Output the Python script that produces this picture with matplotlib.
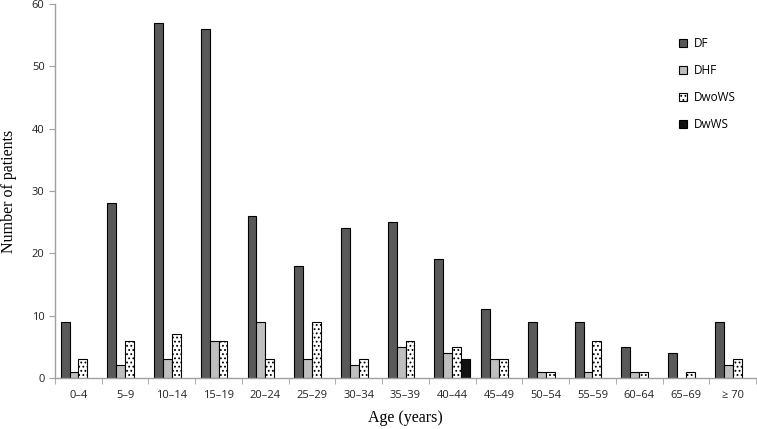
import numpy as np
import matplotlib.pyplot as plt
from matplotlib.patches import Patch

# Age groups and patient counts per dengue category
age_groups = ['0\u20134', '5\u20139', '10\u201314', '15\u201319', '20\u201324', '25\u201329',
              '30\u201334', '35\u201339', '40\u201344', '45\u201349', '50\u201354', '55\u201359',
              '60\u201364', '65\u201369', '\u2265 70']
df_counts = [9, 28, 57, 56, 26, 18, 24, 25, 19, 11, 9, 9, 5, 4, 9]
dhf_counts = [1, 2, 3, 6, 9, 3, 2, 5, 4, 3, 1, 1, 1, 0, 2]
dwows_counts = [3, 6, 7, 6, 3, 9, 3, 6, 5, 3, 1, 6, 1, 1, 3]
dwws_counts = [0, 0, 0, 0, 0, 0, 0, 0, 3, 0, 0, 0, 0, 0, 0]

series = [
    ('DF', df_counts, '#595959', None),
    ('DHF', dhf_counts, '#bfbfbf', None),
    ('DwoWS', dwows_counts, 'white', '....'),
    ('DwWS', dwws_counts, '#111111', None),
]

plt.rcParams['hatch.linewidth'] = 0.8

fig = plt.figure(figsize=(7.57, 4.29), dpi=100)
ax = fig.add_axes([0.0727, 0.119, 0.926, 0.872])

x = np.arange(len(age_groups))
width = 0.19
handles = []
for j, (name, vals, color, hatch) in enumerate(series):
    vals = np.array(vals)
    keep = vals > 0  # zero counts draw no bar
    ax.bar(x[keep] + (j - 1.5) * width, vals[keep], width=width, color=color,
           edgecolor='black', linewidth=0.8, hatch=hatch)
    handles.append(Patch(facecolor=color, edgecolor='black', linewidth=0.8,
                         hatch=hatch, label=name))

ax.set_xlim(-0.5, len(age_groups) - 0.5)
ax.set_ylim(0, 60)
ax.set_yticks(np.arange(0, 61, 10))
ax.set_xticks(x)
ax.set_xticklabels(age_groups)
ax.set_xticks(np.arange(-0.5, len(age_groups)), minor=True)
ax.tick_params(axis='x', which='major', length=0, pad=9)
ax.tick_params(axis='x', which='minor', length=4, color='#a0a0a0')
ax.tick_params(axis='y', length=4, color='#a0a0a0')
for lab in ax.get_xticklabels() + ax.get_yticklabels():
    lab.set_fontfamily('Open Sans')
    lab.set_fontsize(8)
    lab.set_color('#222222')

for side in ['top', 'right']:
    ax.spines[side].set_visible(False)
for side in ['left', 'bottom']:
    ax.spines[side].set_color('#a0a0a0')
    ax.spines[side].set_linewidth(1)

ax.set_ylabel('Number of patients', fontfamily='Liberation Serif', fontsize=11.5, labelpad=11)
ax.set_xlabel('Age (years)', fontfamily='Liberation Serif', fontsize=11.5, labelpad=6)

ax.legend(handles=handles, loc='upper left', bbox_to_anchor=(0.875, 0.94), frameon=False,
          handlelength=0.7, handleheight=0.7, handletextpad=0.6, labelspacing=1.2,
          prop={'family': 'Open Sans', 'size': 8.5})

fig.savefig('out.png', dpi=100)
